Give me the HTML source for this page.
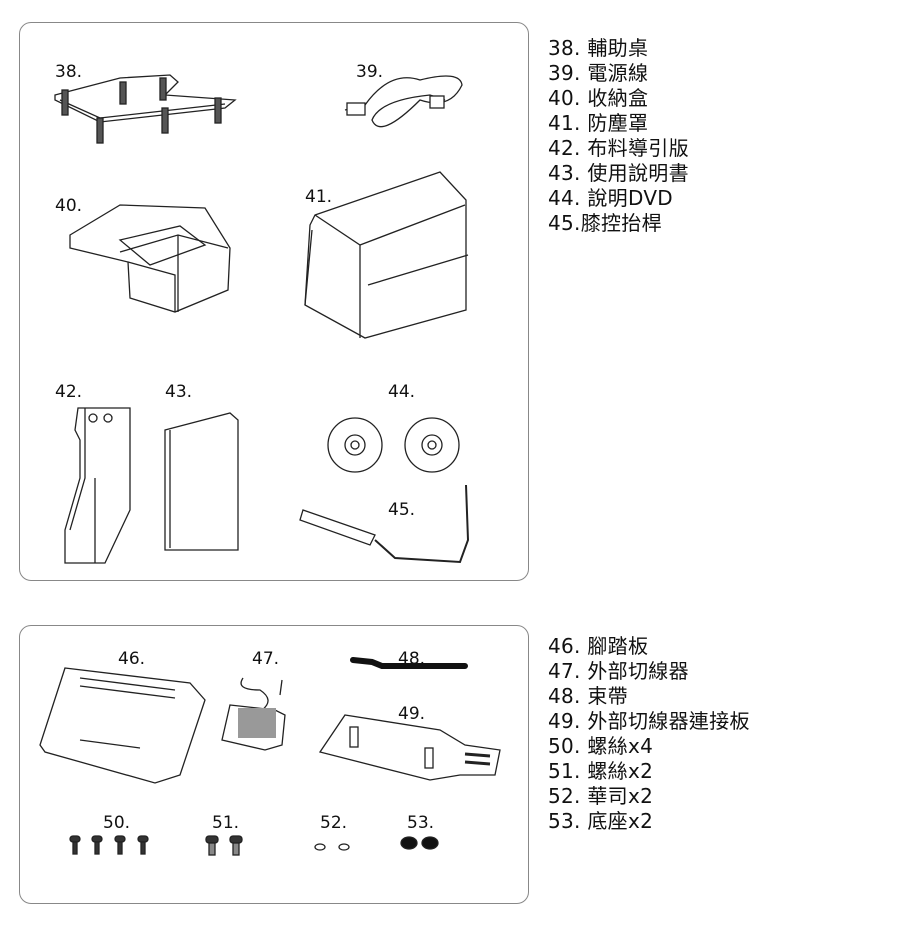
<!DOCTYPE html>
<html><head><meta charset="utf-8"><style>
body{margin:0;width:900px;height:929px;background:#fff;position:relative;overflow:hidden;font-family:"Liberation Sans","Noto Sans CJK TC",sans-serif}
.box{position:absolute;border:1.5px solid #888;border-radius:12px;box-sizing:border-box}
.list{position:absolute;left:548px;font-size:20px;line-height:25px;color:#111;font-family:"DejaVu Sans","Noto Sans CJK TC",sans-serif;letter-spacing:0.3px}
svg{position:absolute;left:0;top:0}
svg text{font-family:"DejaVu Sans",sans-serif;font-size:17px;fill:#111}
</style></head><body>
<div class="box" style="left:19px;top:22px;width:510px;height:559px"></div>
<div class="box" style="left:19px;top:625px;width:510px;height:279px"></div>
<div class="list" style="top:36px">38. 輔助桌<br>39. 電源線<br>40. 收納盒<br>41. 防塵罩<br>42. 布料導引版<br>43. 使用說明書<br>44. 說明DVD<br>45.膝控抬桿</div>
<div class="list" style="top:634px">46. 腳踏板<br>47. 外部切線器<br>48. 束帶<br>49. 外部切線器連接板<br>50. 螺絲x4<br>51. 螺絲x2<br>52. 華司x2<br>53. 底座x2</div>
<svg width="900" height="929" fill="none" stroke="#222" stroke-width="1.3">
<g stroke="none"><text x="55" y="77">38.</text><text x="356" y="77">39.</text><text x="55" y="211">40.</text><text x="305" y="202">41.</text><text x="55" y="397">42.</text><text x="165" y="397">43.</text><text x="388" y="397">44.</text><text x="388" y="515">45.</text>
<text x="118" y="664">46.</text><text x="252" y="664">47.</text><text x="398" y="664">48.</text><text x="398" y="719">49.</text>
<text x="103" y="828">50.</text><text x="212" y="828">51.</text><text x="320" y="828">52.</text><text x="407" y="828">53.</text></g>
<!-- 38 -->
<path d="M55 95 L120 78 L170 75 L178 82 L165 95 L235 100 L225 108 L100 122 L55 100 Z"/>
<path d="M60 100 L100 118 L225 104"/>
<g fill="#555"><rect x="62" y="90" width="6" height="25"/><rect x="97" y="118" width="6" height="25"/><rect x="162" y="108" width="6" height="25"/><rect x="215" y="98" width="6" height="25"/><rect x="120" y="82" width="6" height="22"/><rect x="160" y="78" width="6" height="22"/></g>
<!-- 39 -->
<path d="M345 110 L365 105 Q390 70 420 80 Q460 70 462 85 Q450 110 420 100 Q380 140 372 120 Q380 100 430 95 L445 100"/>
<rect x="347" y="103" width="18" height="12" fill="#fff"/><rect x="430" y="96" width="14" height="12" fill="#fff"/>
<!-- 40 -->
<path d="M70 235 L120 205 L205 208 L230 248 L228 290 L175 312 L130 298 L128 262 L70 248 Z"/>
<path d="M120 252 L178 235 L228 248 M178 235 L178 312 M128 262 L175 275 L175 312"/>
<path d="M120 240 L180 226 L205 245 L150 265 Z"/>
<!-- 41 -->
<path d="M315 215 L440 172 L466 200 L466 310 L365 338 L305 305 L310 225 Z"/>
<path d="M315 215 L360 245 L465 205 M360 245 L360 338 M305 305 L312 230 M368 285 L468 255"/>
<!-- 42 -->
<path d="M78 408 L130 408 L130 510 L105 563 L65 563 L65 530 L80 478 L80 440 L75 430 Z"/>
<path d="M85 408 L85 478 L70 530 M95 478 L95 563"/>
<circle cx="93" cy="418" r="4"/><circle cx="108" cy="418" r="4"/>
<!-- 43 -->
<path d="M165 430 L230 413 L238 420 L238 550 L165 550 Z"/><path d="M170 430 L170 548"/>
<!-- 44 -->
<circle cx="355" cy="445" r="27"/><circle cx="355" cy="445" r="10"/><circle cx="355" cy="445" r="4"/>
<circle cx="432" cy="445" r="27"/><circle cx="432" cy="445" r="10"/><circle cx="432" cy="445" r="4"/>
<!-- 45 -->
<path d="M303 510 L375 535 L370 545 L300 520 Z" fill="#fff"/>
<path d="M375 540 L395 558 L460 562 L468 540 L466 485" stroke-width="2"/>
<!-- 46 -->
<path d="M65 668 L190 683 L205 700 L180 775 L155 783 L45 752 L40 745 Z"/>
<path d="M80 678 L175 690 M80 686 L175 698 M80 740 L140 748"/>
<!-- 47 -->
<path d="M243 678 Q235 690 260 690 Q275 700 262 710 M280 695 L282 680"/>
<path d="M230 705 L275 710 L285 715 L282 745 L265 750 L222 740 Z"/>
<rect x="238" y="708" width="38" height="30" fill="#999" stroke="none"/>
<!-- 48 -->
<path d="M353 660 L372 662 L382 666 L465 666" stroke="#111" stroke-width="6" stroke-linecap="round"/>
<!-- 49 -->
<path d="M345 715 L440 730 L465 745 L500 750 L495 775 L460 775 L430 780 L320 752 Z"/>
<rect x="350" y="727" width="8" height="20"/><rect x="425" y="748" width="8" height="20"/>
<path d="M465 754 L490 756 M465 762 L490 764" stroke-width="3"/>
<!-- 50 -->
<g fill="#333"><rect x="70" y="836" width="10" height="6" rx="3"/><rect x="73" y="842" width="4" height="12"/>
<rect x="92" y="836" width="10" height="6" rx="3"/><rect x="95" y="842" width="4" height="12"/>
<rect x="115" y="836" width="10" height="6" rx="3"/><rect x="118" y="842" width="4" height="12"/>
<rect x="138" y="836" width="10" height="6" rx="3"/><rect x="141" y="842" width="4" height="12"/>
<!-- 51 -->
<rect x="206" y="836" width="12" height="7" rx="3"/><rect x="209" y="843" width="6" height="12" fill="#888"/>
<rect x="230" y="836" width="12" height="7" rx="3"/><rect x="233" y="843" width="6" height="12" fill="#888"/>
<!-- 53 -->
<ellipse cx="409" cy="843" rx="8" ry="6" fill="#111"/><ellipse cx="430" cy="843" rx="8" ry="6" fill="#111"/></g>
<!-- 52 -->
<ellipse cx="320" cy="847" rx="5" ry="3"/><ellipse cx="344" cy="847" rx="5" ry="3"/>
</svg>
</body></html>
